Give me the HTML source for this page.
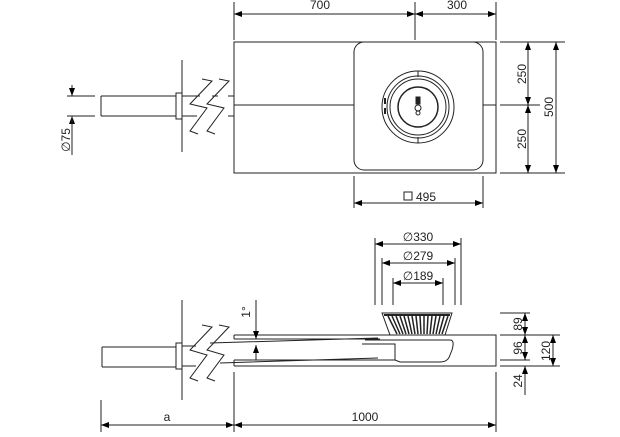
<!DOCTYPE html><html><head><style>body{margin:0;background:#fff}svg{display:block}text{font-family:"Liberation Sans",sans-serif;font-size:12px;fill:#222}</style></head><body>
<svg width="620" height="437" viewBox="0 0 620 437" xmlns="http://www.w3.org/2000/svg">
<defs><marker id="a" markerWidth="8" markerHeight="6" refX="8" refY="3" orient="auto-start-reverse" markerUnits="userSpaceOnUse"><path d="M0,0L8,3L0,6z" fill="#000"/></marker></defs>
<g stroke="#222" fill="none" stroke-width="1">
<rect x="234" y="42" width="262" height="131"/>
<line x1="234" y1="105" x2="354" y2="105"/><line x1="483" y1="105" x2="496" y2="105"/>
<rect x="354" y="42" width="129" height="128" rx="10"/>
<circle cx="418" cy="107" r="36"/><circle cx="418" cy="107" r="31"/><circle cx="418" cy="107" r="28"/><circle cx="418" cy="107" r="20" stroke-width="1.5"/>
<line x1="418" y1="71" x2="418" y2="77"/><line x1="418" y1="137" x2="418" y2="143"/>
<rect x="416" y="97" width="4" height="7" fill="#222"/><circle cx="418" cy="108" r="3"/><circle cx="418" cy="113" r="2"/>
<path d="M385 98v6M385 108v6" stroke-width="2"/>
<line x1="234" y1="2" x2="234" y2="40"/><line x1="415" y1="2" x2="415" y2="40"/><line x1="496" y1="2" x2="496" y2="40"/>
<line x1="234" y1="14" x2="415" y2="14" marker-start="url(#a)" marker-end="url(#a)"/>
<line x1="415" y1="14" x2="496" y2="14" marker-start="url(#a)" marker-end="url(#a)"/>
<line x1="500" y1="42" x2="565" y2="42"/><line x1="500" y1="105" x2="540" y2="105"/><line x1="500" y1="173" x2="565" y2="173"/>
<line x1="528" y1="42" x2="528" y2="105" marker-start="url(#a)" marker-end="url(#a)"/>
<line x1="528" y1="105" x2="528" y2="173" marker-start="url(#a)" marker-end="url(#a)"/>
<line x1="556" y1="42" x2="556" y2="173" marker-start="url(#a)" marker-end="url(#a)"/>
<line x1="354" y1="176" x2="354" y2="208"/><line x1="483" y1="176" x2="483" y2="208"/>
<line x1="354" y1="203" x2="483" y2="203" marker-start="url(#a)" marker-end="url(#a)"/>
<rect x="404" y="192" width="8" height="8"/>
<path d="M101 96H176M101 116H176M101 96V116M228 96H234M228 116H234"/>
<rect x="176" y="93" width="6" height="26"/>
<line x1="182" y1="60" x2="182" y2="152"/>
<path d="M202 79L212 81L190 104L207 108L190 131L198 134"/>
<path d="M219 79L229 81L207 104L224 108L207 131L215 134"/>
<path d="M182 96H200M182 116H197M212 96H218"/>
<line x1="67" y1="96" x2="95" y2="96"/><line x1="67" y1="116" x2="95" y2="116"/>
<line x1="72" y1="85" x2="72" y2="96" marker-end="url(#a)"/><line x1="72" y1="127" x2="72" y2="116" marker-end="url(#a)"/><line x1="72" y1="116" x2="72" y2="155"/>
<path d="M234 335H496V366H234M234 335V339M234 360V366"/>
<path d="M234 339H380M234 360H380"/>
<path d="M102 347H176M102 367H176M102 347V367M182 346H196M182 366H196M210 343L378 338M220 363L378 358"/>
<rect x="176" y="343" width="6" height="26"/>
<line x1="182" y1="300" x2="182" y2="400"/>
<path d="M202 325L212 327L190 350L207 355L190 378L198 381"/>
<path d="M219 325L229 327L207 350L224 355L207 378L215 381"/>
<path d="M382 313H452L445 335H390Z"/>
<path d="M388 316L397 334M392 316L400 334M396 316L403 334M400 316L406 334M404 316L409 334M408 316L412 334M412 316L415 334M416 316L418 334M420 316L421 334M424 316L424 334M428 316L427 334M432 316L430 334M436 316L433 334M440 316L436 334M444 316L439 334M448 316L442 334" stroke-width="1.5"/>
<path d="M384 315H450" stroke-width="2"/>
<path d="M360 335H462"/>
<path d="M365 340H450Q455 340 452 350L450 355Q448 362 440 362H400L395 360H365"/>
<path d="M362 344H395V360"/>
<line x1="256" y1="300" x2="256" y2="339" marker-end="url(#a)"/><line x1="256" y1="360" x2="256" y2="345" marker-end="url(#a)"/>
<line x1="375" y1="238" x2="375" y2="305"/><line x1="461" y1="238" x2="461" y2="305"/>
<line x1="382" y1="258" x2="382" y2="305"/><line x1="455" y1="258" x2="455" y2="305"/>
<line x1="393" y1="278" x2="393" y2="305"/><line x1="443" y1="278" x2="443" y2="305"/>
<line x1="375" y1="244" x2="461" y2="244" marker-start="url(#a)" marker-end="url(#a)"/>
<line x1="382" y1="263" x2="455" y2="263" marker-start="url(#a)" marker-end="url(#a)"/>
<line x1="393" y1="283" x2="443" y2="283" marker-start="url(#a)" marker-end="url(#a)"/>
<line x1="500" y1="313" x2="530" y2="313"/><line x1="500" y1="335" x2="560" y2="335"/><line x1="500" y1="360" x2="530" y2="360"/><line x1="500" y1="366" x2="560" y2="366"/>
<line x1="525" y1="313" x2="525" y2="335" marker-start="url(#a)" marker-end="url(#a)"/>
<line x1="525" y1="335" x2="525" y2="360" marker-start="url(#a)" marker-end="url(#a)"/>
<line x1="525" y1="395" x2="525" y2="366" marker-end="url(#a)"/>
<line x1="553" y1="335" x2="553" y2="366" marker-start="url(#a)" marker-end="url(#a)"/>
<line x1="101" y1="400" x2="101" y2="432"/><line x1="234" y1="372" x2="234" y2="432"/><line x1="496" y1="372" x2="496" y2="432"/>
<line x1="101" y1="425" x2="234" y2="425" marker-start="url(#a)" marker-end="url(#a)"/>
<line x1="234" y1="425" x2="496" y2="425" marker-start="url(#a)" marker-end="url(#a)"/>
</g>
<text x="320" y="9" text-anchor="middle">700</text>
<text x="457" y="9" text-anchor="middle">300</text>
<text transform="translate(526,74) rotate(-90)" text-anchor="middle">250</text>
<text transform="translate(526,139) rotate(-90)" text-anchor="middle">250</text>
<text transform="translate(553,107) rotate(-90)" text-anchor="middle">500</text>
<text x="416" y="201">495</text>
<text transform="translate(70,140) rotate(-90)" text-anchor="middle">∅75</text>
<text x="418" y="241" text-anchor="middle">∅330</text>
<text x="418" y="260" text-anchor="middle">∅279</text>
<text x="418" y="280" text-anchor="middle">∅189</text>
<text transform="translate(250,312) rotate(-90)" text-anchor="middle">1°</text>
<text transform="translate(522,324) rotate(-90)" text-anchor="middle">89</text>
<text transform="translate(522,348) rotate(-90)" text-anchor="middle">96</text>
<text transform="translate(522,381) rotate(-90)" text-anchor="middle">24</text>
<text transform="translate(550,351) rotate(-90)" text-anchor="middle">120</text>
<text x="167" y="421" text-anchor="middle">a</text>
<text x="365" y="421" text-anchor="middle">1000</text>
</svg></body></html>
